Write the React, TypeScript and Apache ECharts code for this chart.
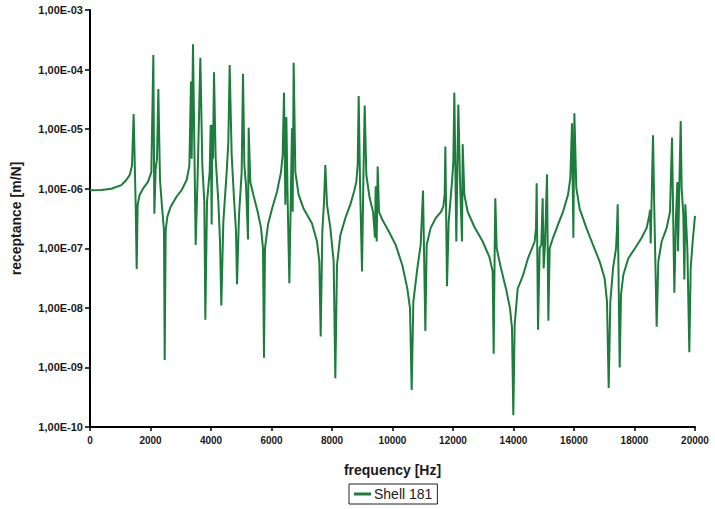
import React, { useEffect, useRef } from "react";
import * as echarts from "echarts";

const frequencies = [
  0, 375, 705, 1036, 1201, 1311, 1388, 1443, 1510, 1543, 1576, 1642, 1752, 1917, 2028, 2094, 2127, 2171, 2215, 2259,
  2314, 2380, 2446, 2469, 2502, 2557, 2667, 2865, 3030, 3195, 3284, 3339, 3361, 3405, 3493, 3559, 3648, 3713, 3779, 3813,
  3868, 3956, 3990, 4022, 4044, 4066, 4099, 4154, 4243, 4298, 4341, 4408, 4518, 4573, 4617, 4683, 4760, 4827, 4860, 4926,
  5014, 5058, 5102, 5157, 5223, 5245, 5300, 5400, 5543, 5653, 5719, 5752, 5785, 5884, 6017, 6182, 6314, 6370, 6413, 6458,
  6491, 6535, 6590, 6634, 6678, 6700, 6733, 6788, 6898, 7063, 7339, 7504, 7581, 7626, 7680, 7736, 7780, 7835, 7945, 8055,
  8110, 8165, 8275, 8440, 8605, 8727, 8804, 8849, 8882, 8926, 8992, 9036, 9081, 9135, 9246, 9356, 9422, 9444, 9477, 9510,
  9554, 9664, 9884, 10105, 10325, 10490, 10579, 10634, 10689, 10821, 10931, 11009, 11086, 11130, 11262, 11427, 11604, 11680, 11725, 11747,
  11802, 11857, 11967, 12011, 12044, 12110, 12143, 12176, 12232, 12298, 12320, 12375, 12485, 12705, 12981, 13201, 13311, 13345, 13378, 13399,
  13444, 13587, 13752, 13884, 13950, 13994, 14039, 14138, 14314, 14479, 14700, 14744, 14766, 14810, 14865, 14920, 14964, 14997, 15041, 15108,
  15152, 15196, 15306, 15471, 15636, 15802, 15879, 15934, 15979, 16012, 16077, 16188, 16408, 16628, 16849, 17014, 17091, 17147, 17201, 17290,
  17389, 17422, 17444, 17510, 17554, 17631, 17796, 18017, 18237, 18403, 18490, 18513, 18535, 18612, 18650, 18733, 18788, 18898, 19064, 19174,
  19240, 19317, 19373, 19417, 19439, 19527, 19560, 19615, 19648, 19681, 19747, 19813, 19857, 19923, 20000,
];

const receptance = [
  9.4e-7, 9.5e-7, 1.0e-6, 1.15e-6, 1.4e-6, 1.7e-6, 2.4e-6, 1.8e-5, 5.4e-7, 4.5e-8, 5.4e-7, 7.9e-7, 1.0e-6, 1.3e-6, 1.9e-6, 1.76e-4, 3.8e-7, 2.2e-6, 3.2e-6, 4.7e-5,
  1.4e-6, 5.0e-7, 2.0e-7, 1.33e-9, 2.0e-7, 3.4e-7, 5.0e-7, 7.4e-7, 9.5e-7, 1.4e-6, 2.4e-6, 6.3e-5, 3.2e-6, 2.65e-4, 1.14e-7, 1.7e-6, 1.58e-4, 2.5e-6, 6.0e-7, 6.3e-9,
  6.0e-7, 1.9e-6, 1.17e-5, 2.5e-7, 1.2e-5, 3.2e-6, 9.0e-5, 3.2e-6, 6.0e-7, 1.3e-7, 1.1e-8, 2.8e-7, 1.9e-6, 6.1e-6, 1.19e-4, 3.7e-6, 6.9e-7, 1.9e-7, 2.5e-8, 3.6e-7,
  1.9e-6, 8.5e-5, 2.5e-6, 1.15e-6, 1.4e-7, 1.06e-5, 1.3e-6, 7.9e-7, 4.1e-7, 2.2e-7, 1.0e-7, 1.46e-9, 1.0e-7, 2.5e-7, 4.6e-7, 8.9e-7, 1.9e-6, 3.7e-6, 4.1e-5, 5.4e-7,
  1.6e-5, 6.0e-7, 2.6e-8, 5.4e-7, 1.03e-5, 4.1e-7, 1.3e-4, 1.9e-6, 7.9e-7, 4.6e-7, 2.6e-7, 1.3e-7, 6.0e-8, 3.3e-9, 1.9e-7, 6.0e-7, 2.5e-6, 5.4e-7, 2.2e-7, 6.0e-8,
  6.6e-10, 5.2e-8, 1.66e-7, 3.2e-7, 5.4e-7, 8.9e-7, 1.3e-6, 2.5e-6, 3.6e-5, 1.3e-6, 4.1e-8, 1.3e-6, 2.5e-5, 1.7e-6, 6.9e-7, 4.1e-7, 1.5e-7, 1.1e-6, 1.3e-7, 2.35e-6,
  4.1e-7, 3.0e-7, 1.9e-7, 1.14e-7, 5.2e-8, 2.1e-8, 9.8e-9, 4.2e-10, 1.26e-8, 4.6e-8, 1.14e-7, 9.3e-7, 4.1e-9, 1.14e-7, 2.2e-7, 3.2e-7, 4.1e-7, 5.0e-7, 7.9e-7, 5.1e-6,
  2.3e-8, 2.8e-7, 1.3e-6, 2.8e-6, 4.1e-5, 1.3e-7, 2.2e-6, 2.6e-5, 1.3e-6, 1.3e-7, 5.6e-6, 7.9e-7, 4.1e-7, 2.3e-7, 1.3e-7, 7.2e-8, 4.1e-8, 1.7e-9, 1.0e-7, 6.9e-7,
  1.0e-7, 4.6e-8, 2.1e-8, 9.8e-9, 4.6e-9, 1.58e-10, 5.2e-9, 2.1e-8, 3.5e-8, 6.8e-8, 1.3e-7, 2.2e-7, 1.23e-6, 4.3e-9, 1.0e-7, 1.14e-7, 6.9e-7, 4.6e-8, 1.14e-7, 1.74e-6,
  6.1e-9, 1.0e-7, 1.5e-7, 2.5e-7, 4.1e-7, 7.9e-7, 1.5e-6, 1.26e-5, 1.5e-7, 1.85e-5, 1.02e-6, 4.6e-7, 2.2e-7, 1.14e-7, 6.0e-8, 3.1e-8, 1.26e-8, 4.5e-10, 1.26e-8, 4.6e-8,
  1.0e-7, 2.2e-7, 5.5e-7, 1.0e-9, 1.66e-8, 3.6e-8, 6.8e-8, 1.0e-7, 1.5e-7, 2.2e-7, 3.6e-7, 4.4e-7, 1.2e-7, 7.9e-6, 6.0e-7, 4.8e-9, 6.0e-8, 1.3e-7, 2.2e-7, 4.1e-7,
  7.2e-6, 1.8e-8, 3.6e-7, 1.3e-6, 8.9e-8, 1.37e-5, 1.0e-6, 3.6e-7, 3.0e-8, 5.5e-7, 1.0e-7, 1.8e-9, 4.6e-8, 1.3e-7, 3.5e-7,
];

const seriesName = "Shell 181";
const xAxisName = "frequency [Hz]";
const yAxisName = "receptance [m/N]";

const FONT = "'Liberation Sans', Arial, sans-serif";

export default function App() {
  const ref = useRef<HTMLDivElement>(null);

  useEffect(() => {
    if (!ref.current) return;
    const chart = echarts.init(ref.current, undefined, { renderer: "svg" });
    const data = frequencies.map((f, i) => [f, receptance[i]]);
    chart.setOption({
      animation: false,
      backgroundColor: "#ffffff",
      grid: { left: 90, right: 20, top: 10, bottom: 82, containLabel: false },
      legend: {
        data: [{ name: seriesName, icon: "rect" }],
        bottom: 5,
        left: 349,
        itemWidth: 17,
        itemHeight: 3,
        padding: [3, 5, 3, 5],
        borderColor: "#222",
        borderWidth: 1,
        borderRadius: 0,
        textStyle: { fontFamily: FONT, fontSize: 14, color: "#222", padding: [0, 0, 0, -2] },
      },
      xAxis: {
        type: "value",
        min: 0,
        max: 20000,
        interval: 2000,
        name: xAxisName,
        nameLocation: "middle",
        nameGap: 36,
        nameTextStyle: { fontFamily: FONT, fontSize: 14, fontWeight: "bold", color: "#1a1a1a" },
        axisLine: { show: true, lineStyle: { color: "#000", width: 2 } },
        axisTick: { show: true, inside: false, length: 4, lineStyle: { color: "#000", width: 1.5 } },
        axisLabel: {
          fontFamily: FONT,
          fontSize: 10,
          fontWeight: "bold",
          color: "#1a1a1a",
          margin: 8,
          formatter: (v: number) => String(Math.round(v)),
        },
        splitLine: { show: false },
      },
      yAxis: {
        type: "log",
        logBase: 10,
        min: 1e-10,
        max: 1e-3,
        splitNumber: 7,
        name: yAxisName,
        nameLocation: "middle",
        nameGap: 67,
        nameTextStyle: { fontFamily: FONT, fontSize: 14, fontWeight: "bold", color: "#1a1a1a" },
        axisLine: { show: true, lineStyle: { color: "#000", width: 2 } },
        axisTick: { show: true, inside: false, length: 5, lineStyle: { color: "#000", width: 1.5 } },
        axisLabel: {
          fontFamily: FONT,
          fontSize: 11,
          fontWeight: "bold",
          color: "#1a1a1a",
          margin: 7,
          formatter: (v: number) => {
            const e = Math.round(Math.log10(v));
            const s = String(Math.abs(e)).padStart(2, "0");
            return `1,00E${e < 0 ? "-" : "+"}${s}`;
          },
        },
        splitLine: { show: false },
      },
      series: [
        {
          name: seriesName,
          type: "line",
          data,
          showSymbol: false,
          symbol: "none",
          smooth: false,
          color: "#1c7d3d",
          lineStyle: { color: "#1c7d3d", width: 2 },
        },
      ],
    });
    return () => chart.dispose();
  }, []);

  return (
    <div
      ref={ref}
      style={{ position: "absolute", left: 0, top: 0, width: 715, height: 509 }}
    />
  );
}
